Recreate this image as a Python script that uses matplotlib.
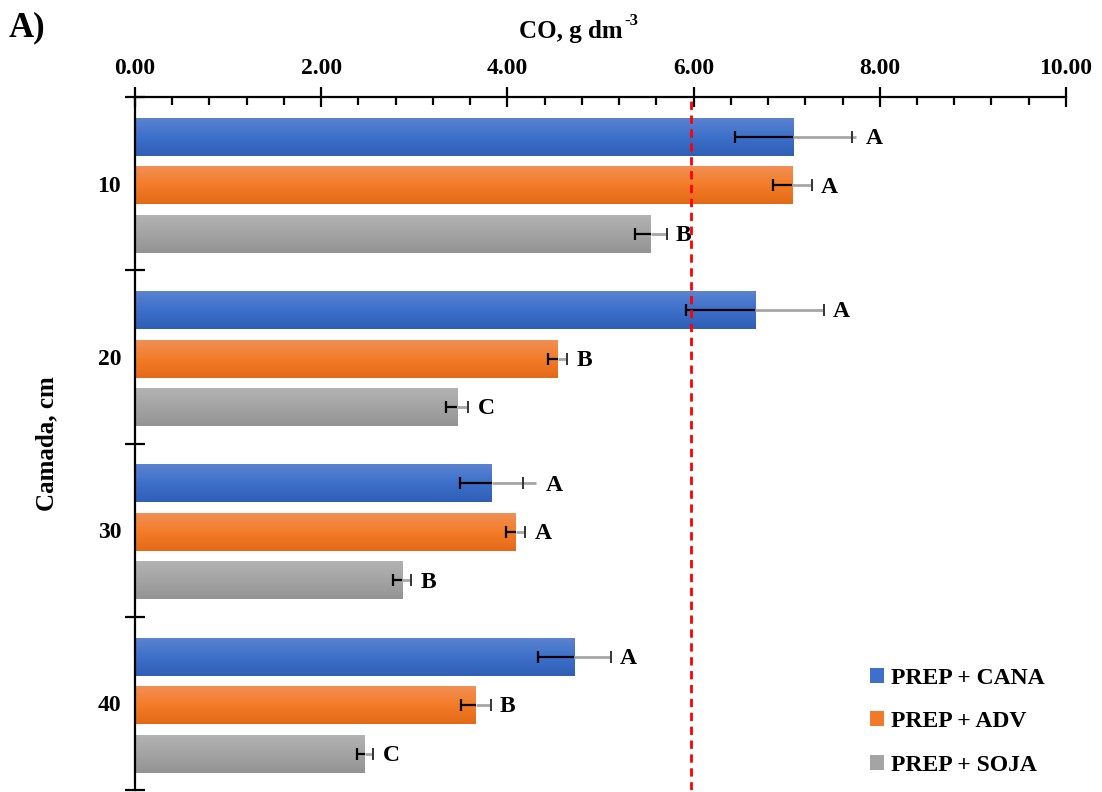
import numpy as np
import matplotlib
matplotlib.use("Agg")
import matplotlib.pyplot as plt
from matplotlib.colors import LinearSegmentedColormap

plt.rcParams['font.family'] = 'Liberation Serif'
plt.rcParams['font.weight'] = 'bold'

# Data
layers = ['10', '20', '30', '40']
series = ['PREP + CANA', 'PREP + ADV', 'PREP + SOJA']
cana = [7.07, 6.66, 3.83, 4.72]
adv = [7.06, 4.54, 4.09, 3.66]
soja = [5.54, 3.46, 2.87, 2.47]
cana_err = [0.63, 0.74, 0.34, 0.39]
adv_err = [0.21, 0.10, 0.10, 0.16]
soja_err = [0.17, 0.12, 0.10, 0.09]
# gray (upper) part of the error bars sometimes runs a bit past the cap
cana_err_up = [0.68, 0.74, 0.48, 0.39]
adv_err_up = [0.21, 0.10, 0.10, 0.16]
soja_err_up = [0.17, 0.12, 0.10, 0.09]
cana_letters = ['A', 'A', 'A', 'A']
adv_letters = ['A', 'B', 'A', 'B']
soja_letters = ['B', 'C', 'B', 'C']
ref_line = 5.97

# gradient colours: top, middle, bottom
grads = [['#5d84d0', '#3d70cb', '#2f5fb6'],
         ['#f09058', '#f47c28', '#e36917'],
         ['#b3b3b3', '#a4a4a4', '#939393']]
solid = ['#3d6fcb', '#f07a2a', '#a4a4a4']

fig = plt.figure(figsize=(11.02, 7.92), dpi=100)
ax = fig.add_axes([0.1225, 0.0025, 0.8448, 0.875])

y = np.arange(len(layers))
offsets = [-0.27, 0.01, 0.29]
h = 0.22
cap = 0.035

all_vals = [cana, adv, soja]
all_err = [cana_err, adv_err, soja_err]
all_up = [cana_err_up, adv_err_up, soja_err_up]
all_let = [cana_letters, adv_letters, soja_letters]

grad = np.linspace(0, 1, 100).reshape(-1, 1)
for i in range(3):
    yy = y + offsets[i]
    bars = ax.barh(yy, all_vals[i], height=h, color=solid[i], label=series[i])
    cmap = LinearSegmentedColormap.from_list('g%d' % i, grads[i])
    for b, v, yc in zip(bars, all_vals[i], yy):
        im = ax.imshow(grad, cmap=cmap, aspect='auto', origin='upper',
                       extent=(0, v, yc + h / 2, yc - h / 2), zorder=2)
        im.set_clip_path(b)
    v = np.array(all_vals[i])
    e = np.array(all_err[i])
    up = np.array(all_up[i])
    ax.hlines(yy, v, v + up, color='#a6a6a6', lw=2, zorder=3)
    ax.hlines(yy, v - e, v, color='black', lw=1.6, zorder=4)
    ax.vlines(v - e, yy - cap, yy + cap, color='black', lw=1.6, zorder=4)
    ax.vlines(v + e, yy - cap, yy + cap, color='#333333', lw=1.4, zorder=4)
    for xv, yc, t in zip(np.maximum(v + e, v + up), yy, all_let[i]):
        ax.text(xv + 0.1, yc + 0.01, t, fontsize=17, fontweight='bold',
                va='center', ha='left')

ax.axvline(ref_line, color='red', lw=2, dashes=(3, 2), zorder=5)

ax.set_xlim(0, 10)
ax.set_ylim(3.5, -0.5)
ax.xaxis.tick_top()
ax.set_xticks(np.arange(0, 10.01, 2))
ax.set_xticklabels(['%.2f' % t for t in np.arange(0, 10.01, 2)])
ax.set_xticks(np.arange(0, 10.01, 0.4), minor=True)
ax.tick_params(axis='x', which='major', direction='inout', length=14, width=1.6,
               labelsize=17, pad=6)
ax.tick_params(axis='x', which='minor', direction='in', length=6, width=1.6)

# x axis title with a plain hyphen in the superscript
ax.text(0.524, 1.094, 'CO, g dm', transform=ax.transAxes, fontsize=18,
        fontweight='bold', ha='right', va='center')
ax.text(0.526, 1.109, '-3', transform=ax.transAxes, fontsize=12,
        fontweight='bold', ha='left', va='center')

ax.set_yticks([-0.5, 0.5, 1.5, 2.5, 3.5])
ax.set_yticklabels([])
ax.set_yticks(y, minor=True)
ax.set_yticklabels(layers, minor=True)
ax.tick_params(axis='y', which='major', direction='inout', length=14, width=1.6)
ax.tick_params(axis='y', which='minor', length=0, labelsize=17, pad=10)
ax.set_ylabel('Camada, cm', fontsize=18, fontweight='bold')
ax.yaxis.set_label_coords(-0.082, 0.5)

for s in ['right', 'bottom']:
    ax.spines[s].set_visible(False)
for s in ['top', 'left']:
    ax.spines[s].set_linewidth(1.6)

ax.legend(loc='lower right', bbox_to_anchor=(1.0, -0.01), frameon=False,
          prop={'size': 17, 'weight': 'bold'}, handlelength=0.6,
          handleheight=0.6, handletextpad=0.3, labelspacing=0.95)

fig.text(0.008, 0.965, 'A)', fontsize=25, fontweight='bold', va='center')

fig.savefig('out.png', dpi=100)
